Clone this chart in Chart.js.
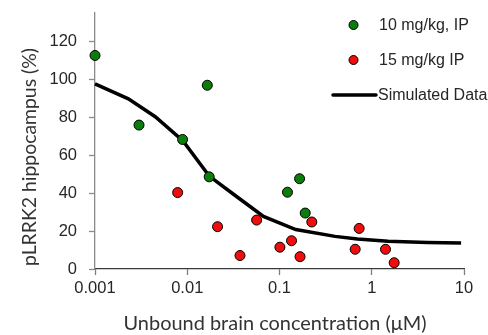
<!DOCTYPE html>
<html>
<head>
<meta charset="utf-8">
<script src="https://cdn.jsdelivr.net/npm/chart.js@4"></script>
<style>
  html, body { margin: 0; padding: 0; background: #fff; }
  #wrap { width: 488px; height: 335px; position: relative; }
</style>
</head>
<body>
<div id="wrap"><canvas id="c" width="488" height="335"></canvas></div>
<script>
// ---- data ----
const tickLabelsX = ['0.001', '0.01', '0.1', '1', '10'];
const tickValuesY = [0, 20, 40, 60, 80, 100, 120];

const green10X = [0.001, 0.003, 0.0089, 0.0165, 0.0173, 0.122, 0.165, 0.19];
const green10Y = [112.6, 75.9, 68.3, 96.9, 48.6, 40.5, 47.6, 29.5];

const red15X = [0.00787, 0.0213, 0.0373, 0.0565, 0.101, 0.135, 0.167, 0.224, 0.661, 0.73, 1.41, 1.75];
const red15Y = [40.3, 22.3, 7.1, 25.8, 11.5, 14.9, 6.5, 24.8, 10.4, 21.4, 10.4, 3.3];

const simX = [0.001, 0.0023, 0.0045, 0.009, 0.0173, 0.032, 0.067, 0.15, 0.4, 0.7, 1.5, 4, 9.3];
const simY = [97.6, 89.7, 80.3, 67.5, 49.0, 39.3, 27.7, 20.8, 17.2, 15.8, 14.6, 14.0, 13.7];

const seriesNames = ['10 mg/kg, IP', '15 mg/kg IP', 'Simulated Data'];
const yTitle = 'pLRRK2 hippocampus (%)';
const xTitle = 'Unbound brain concentration (\u03BCM)';

const toPts = (xs, ys) => xs.map((x, i) => ({ x: x, y: ys[i] }));

const GREEN = '#0b7d0b';
const RED = '#f00d0d';
const TXT = '#262626';
const ARIAL = '"Liberation Sans", Arial, sans-serif';
const TITLEFONT = 'Lato, "Noto Sans", sans-serif';

function fitFont(ctx, text, family, weight, target) {
  ctx.font = weight + ' 20px ' + family;
  const w = ctx.measureText(text).width;
  return 20 * target / w;
}

const overlay = {
  id: 'overlay',
  afterDraw(chart) {
    const ctx = chart.ctx;
    ctx.save();
    // legend
    ctx.font = '16px ' + ARIAL;
    ctx.fillStyle = TXT;
    ctx.textBaseline = 'middle';
    ctx.textAlign = 'left';
    const items = [
      { type: 'pt', color: GREEN, y: 25 },
      { type: 'pt', color: RED, y: 60 },
      { type: 'ln', y: 95 }
    ];
    items.forEach((it, i) => {
      if (it.type === 'pt') {
        ctx.beginPath();
        ctx.arc(353.5, it.y, 4.5, 0, Math.PI * 2);
        ctx.fillStyle = it.color;
        ctx.fill();
        ctx.lineWidth = 1;
        ctx.strokeStyle = '#000';
        ctx.stroke();
        ctx.fillStyle = TXT;
        ctx.fillText(seriesNames[i], 379, it.y + 0.5);
      } else {
        ctx.beginPath();
        ctx.moveTo(333, it.y);
        ctx.lineTo(376, it.y);
        ctx.lineWidth = 3.5;
        ctx.lineCap = 'round';
        ctx.strokeStyle = '#000';
        ctx.stroke();
        ctx.fillStyle = TXT;
        ctx.fillText(seriesNames[i], 378, it.y + 0.5);
      }
    });
    // axis titles
    ctx.fillStyle = '#333';
    ctx.textAlign = 'center';
    ctx.textBaseline = 'middle';
    let fs = fitFont(ctx, xTitle, TITLEFONT, 'normal', 303);
    ctx.font = fs.toFixed(2) + 'px ' + TITLEFONT;
    ctx.fillText(xTitle, 275, 324);
    fs = fitFont(ctx, yTitle, TITLEFONT, 'normal', 218);
    ctx.font = fs.toFixed(2) + 'px ' + TITLEFONT;
    ctx.translate(30, 157);
    ctx.rotate(-Math.PI / 2);
    ctx.fillText(yTitle, 0, 0);
    ctx.restore();
  }
};

new Chart(document.getElementById('c'), {
  type: 'scatter',
  data: {
    datasets: [
      {
        label: seriesNames[0],
        data: toPts(green10X, green10Y),
        backgroundColor: GREEN,
        borderColor: '#000',
        borderWidth: 1,
        pointRadius: 5,
        clip: false
      },
      {
        label: seriesNames[1],
        data: toPts(red15X, red15Y),
        backgroundColor: RED,
        borderColor: '#000',
        borderWidth: 1,
        pointRadius: 5,
        clip: false
      },
      {
        label: seriesNames[2],
        data: toPts(simX, simY),
        showLine: true,
        borderColor: '#000',
        borderWidth: 3.5,
        pointRadius: 0,
        tension: 0,
        fill: false,
        clip: false
      }
    ]
  },
  options: {
    responsive: false,
    animation: false,
    events: [],
    layout: { padding: { left: 0, right: 24, top: 13, bottom: 0 } },
    plugins: { legend: { display: false }, tooltip: { enabled: false } },
    scales: {
      x: {
        type: 'logarithmic',
        min: 0.001,
        max: 10,
        afterFit(s) { s.height = 66; s.paddingLeft = 0; s.paddingRight = 0; },
        afterBuildTicks(s) {
          s.ticks = tickLabelsX.map(t => ({ value: parseFloat(t) }));
        },
        border: { color: '#3a3a3a', width: 1.3 },
        grid: { display: true, drawOnChartArea: false, drawTicks: true, tickLength: 6, color: '#7f7f7f', tickWidth: 1.3 },
        ticks: {
          autoSkip: false,
          maxRotation: 0,
          padding: 4,
          color: TXT,
          font: { family: ARIAL, size: 16.5 },
          callback(v) {
            const i = tickLabelsX.findIndex(t => Math.abs(parseFloat(t) - v) < 1e-9);
            return i >= 0 ? tickLabelsX[i] : '';
          }
        }
      },
      y: {
        type: 'linear',
        min: 0,
        max: 135,
        afterFit(s) { s.width = 95; s.paddingTop = 0; s.paddingBottom = 0; },
        afterBuildTicks(s) {
          s.ticks = tickValuesY.map(v => ({ value: v }));
        },
        border: { color: '#8a8a8a', width: 1.3 },
        grid: { display: true, drawOnChartArea: false, drawTicks: true, tickLength: 6, color: '#8a8a8a', tickWidth: 1.3 },
        ticks: {
          padding: 12,
          color: TXT,
          font: { family: ARIAL, size: 16.5 }
        }
      }
    }
  },
  plugins: [overlay]
});
</script>
</body>
</html>
